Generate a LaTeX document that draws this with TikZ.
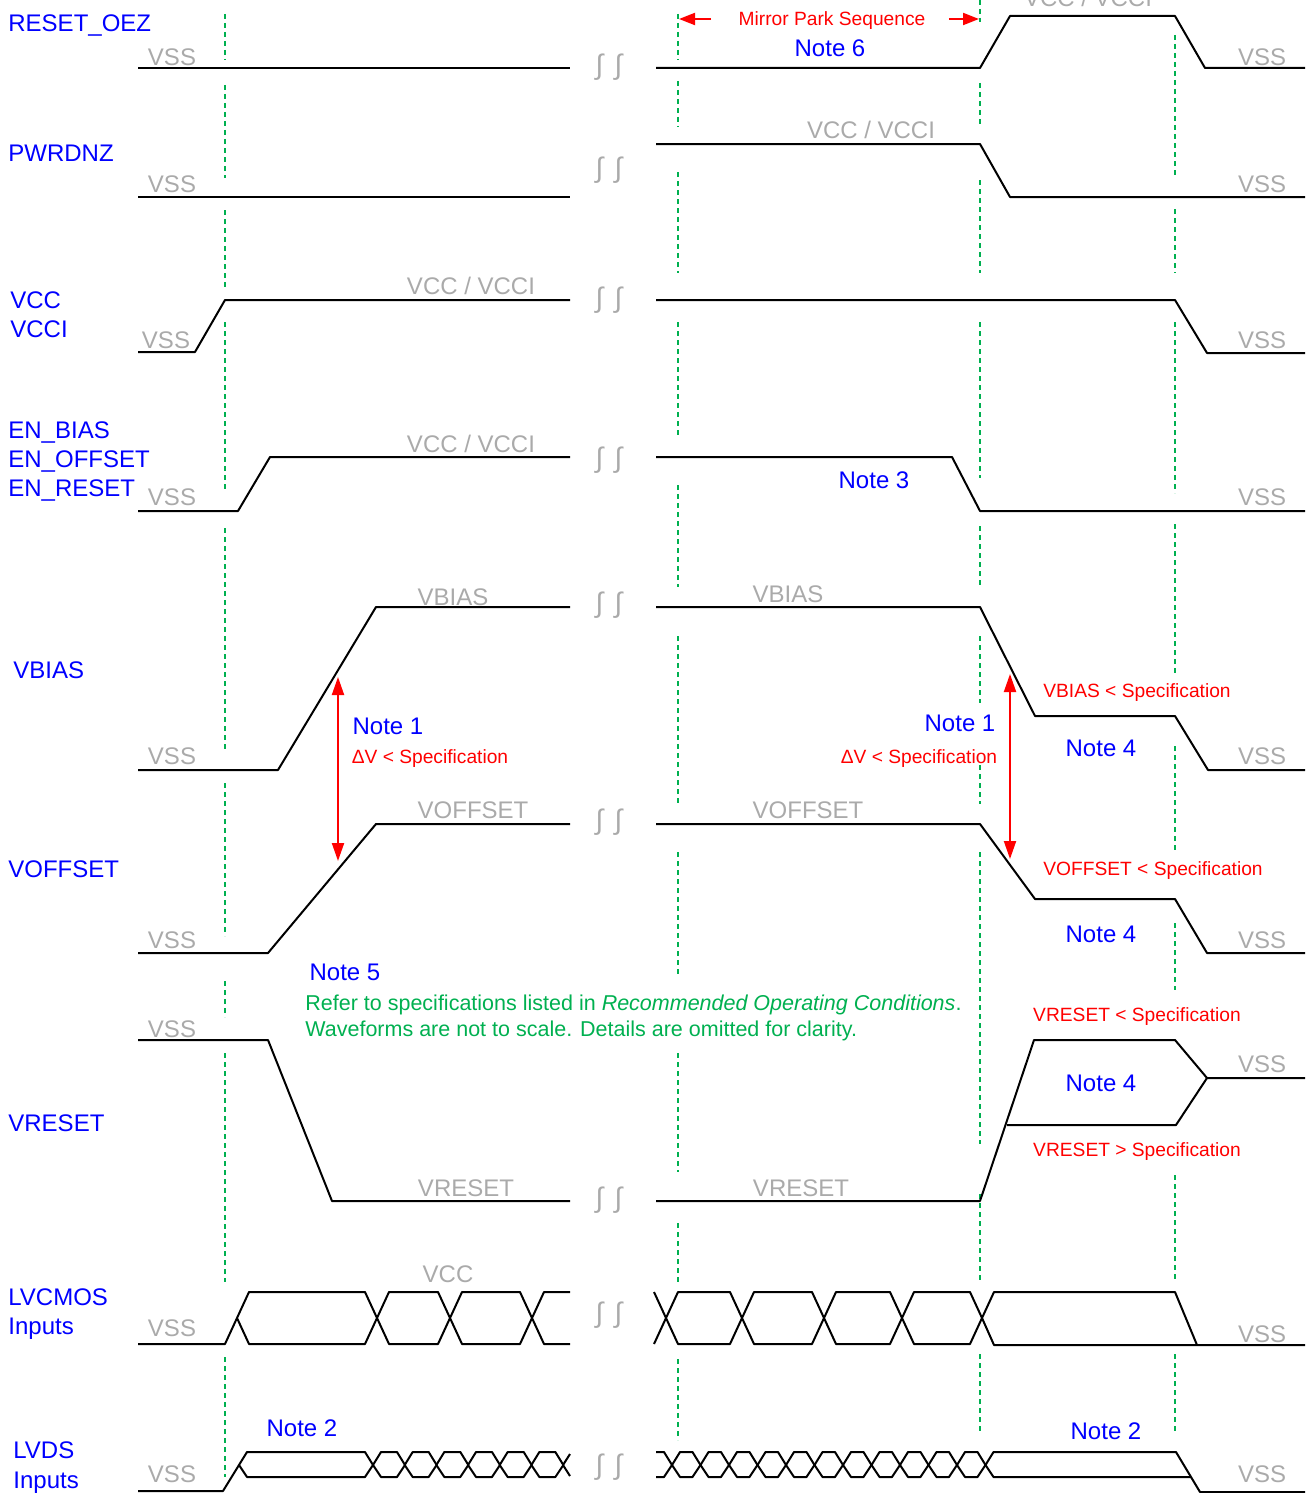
\documentclass[tikz,border=0pt]{standalone}
\usepackage{fontspec}
\setmainfont{Liberation Sans}
\usetikzlibrary{arrows.meta}
\definecolor{tiblue}{RGB}{0,0,255}
\definecolor{tired}{RGB}{255,0,0}
\definecolor{tigray}{RGB}{170,170,170}
\definecolor{tigreen}{RGB}{0,176,80}
\begin{document}
\begin{tikzpicture}[x=0.5pt, y=-0.5pt, line join=round,
  sig/.style={black, line width=1pt},
  guide/.style={tigreen, line width=1pt, dash pattern=on 2.5pt off 2pt},
  signame/.style={tiblue, anchor=west, font=\fontsize{12}{14}\selectfont, text height=8.6pt, text depth=0pt, inner sep=0pt},
  lvl/.style={tigray, font=\fontsize{12}{14}\selectfont, text height=8.6pt, text depth=0pt, inner sep=0pt},
  note/.style={tiblue, font=\fontsize{12}{14}\selectfont, text height=8.6pt, text depth=0pt, inner sep=0pt},
  spec/.style={tired, font=\fontsize{9.6}{11}\selectfont, text height=6.9pt, text depth=0pt, inner sep=0pt},
  remark/.style={tigreen, anchor=west, font=\fontsize{10.75}{13}\selectfont, text height=7.7pt, text depth=0pt, inner sep=0pt},
  brk/.style={tigray, font=\fontsize{14}{16}\selectfont, inner sep=0pt},
  specarrow/.style={tired, line width=1pt, -{Triangle[length=8pt,width=6pt]}},
  dv/.style={tired, line width=1pt, {Triangle[length=9pt,width=6pt]}-{Triangle[length=9pt,width=6pt]}}]
\useasboundingbox (0,0) rectangle (1310,1493);

% guide lines
\foreach \a/\b in {14/60,85/178,210/290,322/490,528/751,783/936,981/1017,1053/1282,1357/1477}
  \draw[guide] (225,\a)--(225,\b);
\foreach \a/\b in {14/60,81/127,172/273,322/437,485/587,636/804,852/976,1053/1172,1223/1282,1359/1440}
  \draw[guide] (678,\a)--(678,\b);
\foreach \a/\b in {0/22,83/127,180/273,322/478,526/588,636/703,765/804,852/1144,1194/1282,1354/1432}
  \draw[guide] (980,\a)--(980,\b);
\foreach \a/\b in {35/177,209/273,322/493,524/675,746/852,923/990,1175/1282,1354/1432}
  \draw[guide] (1175,\a)--(1175,\b);

% breaks
\foreach \y in {67,170,300,460,605,822,1200,1315,1467}
  \node[brk] (brk\y) at (609,\y) {∫\hspace{0.4em}∫};

% signal names
\node[signame] (nReset) at (8,23) {RESET\_OEZ};
\node[signame] (nPwr) at (8,153) {PWRDNZ};
\node[signame] (nVcc) at (10,300) {VCC};
\node[signame] (nVcci) at (10,329) {VCCI};
\node[signame] (nEnB) at (8,430) {EN\_BIAS};
\node[signame] (nEnO) at (8,459) {EN\_OFFSET};
\node[signame] (nEnR) at (8,488) {EN\_RESET};
\node[signame] (nBias) at (13,670) {VBIAS};
\node[signame] (nOffs) at (8,869) {VOFFSET};
\node[signame] (nVres) at (8,1123) {VRESET};
\node[signame] (nCmos) at (8,1297) {LVCMOS};
\node[signame] (nCmosI) at (8,1326) {Inputs};
\node[signame] (nLvds) at (13,1450) {LVDS};
\node[signame] (nLvdsI) at (13,1480) {Inputs};

% RESET_OEZ
\draw[sig] (138,68)--(570,68);
\draw[sig] (656,68)--(980,68)--(1010,16)--(1175,16)--(1205,68)--(1305,68);
\node[lvl] (l1a) at (172,57) {VSS};
\node[lvl] (l1b) at (1262,57) {VSS};
\node[lvl] (l1c) at (1088,-2) {VCC / VCCI};
\node[spec] (park) at (832,19) {Mirror Park Sequence};
\coordinate (parkL) at (679,19);
\coordinate (parkR) at (979,19);
\draw[specarrow] ([xshift=-13.5pt]park.west) -- (parkL);
\draw[specarrow] ([xshift=11.5pt]park.east) -- (parkR);
\node[note] (note6) at (830,48) {Note 6};

% PWRDNZ
\draw[sig] (138,197)--(570,197);
\draw[sig] (656,144)--(980,144)--(1010,197)--(1305,197);
\node[lvl] (l2a) at (172,184) {VSS};
\node[lvl] (l2b) at (871,130) {VCC / VCCI};
\node[lvl] (l2c) at (1262,184) {VSS};

% VCC / VCCI
\draw[sig] (138,352)--(195,352)--(225,300)--(570,300);
\draw[sig] (656,300)--(1175,300)--(1207,353)--(1305,353);
\node[lvl] (l3a) at (166,340) {VSS};
\node[lvl] (l3b) at (471,286) {VCC / VCCI};
\node[lvl] (l3c) at (1262,340) {VSS};

% EN_BIAS / EN_OFFSET / EN_RESET
\draw[sig] (138,511)--(238,511)--(270,457)--(570,457);
\draw[sig] (656,457)--(952,457)--(980,511)--(1305,511);
\node[lvl] (l4a) at (172,497) {VSS};
\node[lvl] (l4b) at (471,444) {VCC / VCCI};
\node[lvl] (l4c) at (1262,497) {VSS};
\node[note] (note3) at (874,480) {Note 3};

% VBIAS
\draw[sig] (138,770)--(278,770)--(376,607)--(570,607);
\draw[sig] (656,607)--(980,607)--(1035,716)--(1175,716)--(1208,770)--(1305,770);
\node[lvl] (l5a) at (172,756) {VSS};
\node[lvl] (l5b) at (453,597) {VBIAS};
\node[lvl] (l5c) at (788,594) {VBIAS};
\node[lvl] (l5d) at (1262,756) {VSS};
\node[spec] (sBias) at (1137,691) {VBIAS < Specification};
\node[note] (note4a) at (1101,748) {Note 4};

% delta V
\coordinate (dvL1) at (338,677);
\coordinate (dvL2) at (338,861);
\coordinate (dvR1) at (1010,674);
\coordinate (dvR2) at (1010,859);
\draw[dv] (dvL1)--(dvL2);
\draw[dv] (dvR1)--(dvR2);
\node[note] (note1a) at (388,726) {Note 1};
\node[spec] (dva) at (430,757) {ΔV < Specification};
\node[note] (note1b) at (960,723) {Note 1};
\node[spec] (dvb) at (919,757) {ΔV < Specification};

% VOFFSET
\draw[sig] (138,953)--(268,953)--(376,824)--(570,824);
\draw[sig] (656,824)--(980,824)--(1035,899)--(1175,899)--(1207,953)--(1305,953);
\node[lvl] (l6a) at (172,940) {VSS};
\node[lvl] (l6b) at (473,810) {VOFFSET};
\node[lvl] (l6c) at (808,810) {VOFFSET};
\node[lvl] (l6d) at (1262,940) {VSS};
\node[spec] (sOffs) at (1153,869) {VOFFSET < Specification};
\node[note] (note4b) at (1101,934) {Note 4};

\node[note] (note5) at (345,972) {Note 5};
\node[remark] (rem1) at (305,1003) {Refer to specifications listed in \textit{Recommended Operating Conditions}.};
\node[remark] (rem2) at (305,1029) {Waveforms are not to scale. Details are omitted for clarity.};

% VRESET
\draw[sig] (138,1040)--(268,1040)--(332,1201)--(570,1201);
\draw[sig] (656,1201)--(980,1201)--(1034,1040)--(1175,1040)--(1207,1078)--(1305,1078);
\draw[sig] (1007,1125)--(1176,1125)--(1207,1078);
\node[lvl] (l7a) at (172,1029) {VSS};
\node[lvl] (l7b) at (466,1188) {VRESET};
\node[lvl] (l7c) at (801,1188) {VRESET};
\node[lvl] (l7d) at (1262,1064) {VSS};
\node[spec] (sRes1) at (1137,1015) {VRESET < Specification};
\node[spec] (sRes2) at (1137,1150) {VRESET > Specification};
\node[note] (note4c) at (1101,1083) {Note 4};

% LVCMOS inputs
\draw[sig] (138,1344)--(225,1344)--(237,1318);
\foreach \a/\b in {237/377,377/450,450/532}
  \draw[sig] (\a,1318)--(\a+12,1292)--(\b-12,1292)--(\b,1318)--(\b-12,1344)--(\a+12,1344)--cycle;
\draw[sig] (570,1292)--(544,1292)--(532,1318)--(544,1344)--(570,1344);
\draw[sig] (654,1292)--(666,1318)--(654,1344);
\foreach \a/\b in {666/742,742/824,824/902,902/982}
  \draw[sig] (\a,1318)--(\a+12,1292)--(\b-12,1292)--(\b,1318)--(\b-12,1344)--(\a+12,1344)--cycle;
\draw[sig] (982,1318)--(994,1292)--(1175,1292)--(1197,1345);
\draw[sig] (982,1318)--(994,1345)--(1305,1345);
\node[lvl] (l8a) at (172,1328) {VSS};
\node[lvl] (l8b) at (448,1274) {VCC};
\node[lvl] (l8c) at (1262,1334) {VSS};

% LVDS inputs
\draw[sig] (138,1491)--(223,1491)--(239,1465);
\draw[sig] (239,1465)--(247,1452)--(365,1452)--(373,1465)--(365,1477)--(247,1477)--cycle;
\foreach \k in {0,...,5}
  \draw[sig] (373+31.67*\k,1465)--(381+31.67*\k,1452)--(397+31.67*\k,1452)--(405+31.67*\k,1465)
    --(397+31.67*\k,1477)--(381+31.67*\k,1477)--cycle;
\draw[sig] (570,1454)--(563,1465)--(570,1476);
\draw[sig] (656,1452)--(664,1452)--(672,1465)--(664,1477)--(656,1477);
\foreach \k in {0,...,10}
  \draw[sig] (672+28.5*\k,1465)--(680+28.5*\k,1452)--(692.5+28.5*\k,1452)--(700.5+28.5*\k,1465)
    --(692.5+28.5*\k,1477)--(680+28.5*\k,1477)--cycle;
\draw[sig] (985.5,1465)--(993.5,1452)--(1176,1452)--(1200,1492)--(1305,1492);
\draw[sig] (985.5,1465)--(993.5,1477)--(1191,1477);
\node[lvl] (l9a) at (172,1474) {VSS};
\node[lvl] (l9b) at (1262,1474) {VSS};
\node[note] (note2a) at (302,1428) {Note 2};
\node[note] (note2b) at (1106,1431) {Note 2};

\end{tikzpicture}
\end{document}
